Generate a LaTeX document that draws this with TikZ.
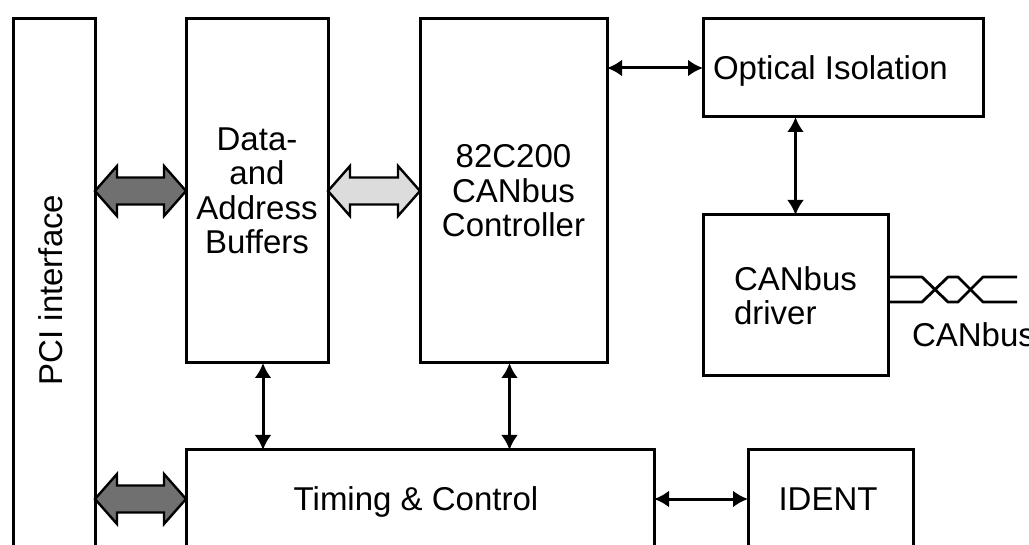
\documentclass[tikz,border=0pt]{standalone}
\usepackage{fontspec}
\setmainfont{Liberation Sans}
\usetikzlibrary{arrows.meta,calc}
\definecolor{arrdark}{HTML}{707070}
\definecolor{arrlight}{HTML}{DCDCDC}
\newcommand\blockarrow[3]{\draw[blockarr,fill=#3] let \p1=#1, \p2=#2 in
  (\x1,\y1) -- (\x1+22pt,\y1+25pt) -- (\x1+22pt,\y1+13.5pt) -- (\x2-22pt,\y1+13.5pt)
  -- (\x2-22pt,\y1+25pt) -- (\x2,\y1) -- (\x2-22pt,\y1-25pt) -- (\x2-22pt,\y1-13.5pt)
  -- (\x1+22pt,\y1-13.5pt) -- (\x1+22pt,\y1-25pt) -- cycle;}
\begin{document}
\begin{tikzpicture}[x=1pt,y=-1pt,
  every node/.style={font=\fontsize{33}{34.5}\selectfont, inner sep=0pt, outer sep=0pt},
  box/.style={draw, line width=3pt, anchor=north west, align=center},
  conn/.style={line width=3pt, {Latex[length=15pt,width=17pt]}-{Latex[length=15pt,width=17pt]}},
  blockarr/.style={line width=2.4pt, line join=miter},
  pair/.style={line width=2.8pt, line join=round}]
\useasboundingbox (0,0) rectangle (1029,545);
\clip (0,0) rectangle (1029,545);
% boxes
\node[box, minimum width=82pt, minimum height=560pt] (pci) at (13,19) {};
\node[box, minimum width=142pt, minimum height=344pt] (data) at (186,19) {Data-\\and\\Address\\Buffers};
\node[box, minimum width=187pt, minimum height=344pt] (ctrl) at (420,19) {82C200\\CANbus\\Controller};
\node[box, minimum width=280pt, minimum height=98pt] (opt) at (703,19) {};
\node[box, minimum width=185pt, minimum height=161pt, align=left] (drv) at (703,215) {CANbus\\driver};
\node[box, minimum width=468pt, minimum height=130pt] (tim) at (186,450) {};
\node[box, minimum width=165pt, minimum height=130pt] (ident) at (748,450) {};
% labels
\node[rotate=90, anchor=base] (pcit) at (62,290) {PCI interface};
\node[anchor=base west] (optt) at (713,80) {Optical Isolation};
\node[anchor=base] (timt) at (416,510) {Timing \& Control};
\node[anchor=base] (identt) at (828,510) {IDENT};
\node[anchor=base west] (bust) at (912,347) {CANbus};
% thin connectors
\coordinate (row) at (0,499);
\draw[conn] (opt.west -| ctrl.east) -- (opt.west);
\draw[conn] (opt.south -| drv.north) -- (drv.north);
\draw[conn] ($(data.south)+(6,0)$) -- ($(data.south |- tim.north)+(6,0)$);
\draw[conn] ($(ctrl.south)+(-4,0)$) -- ($(ctrl.south |- tim.north)+(-4,0)$);
\draw[conn] (tim.east |- row) -- (ident.west |- row);
% block arrows
\blockarrow{(pci.east |- data.west)}{(data.west)}{arrdark}
\blockarrow{(data.east)}{(ctrl.west)}{arrlight}
\blockarrow{(pci.east |- row)}{(tim.west |- row)}{arrdark}
% twisted pair
\coordinate (p1) at ($(drv.north east)+(0,62)$);
\coordinate (p2) at ($(drv.north east)+(0,87)$);
\draw[pair] (p1) -- ++(34,0) -- ++(26,25) -- ++(10,0) -- ++(25,-25) -- ++(34,0);
\draw[pair] (p2) -- ++(34,0) -- ++(26,-25) -- ++(10,0) -- ++(25,25) -- ++(34,0);
\end{tikzpicture}
\end{document}
